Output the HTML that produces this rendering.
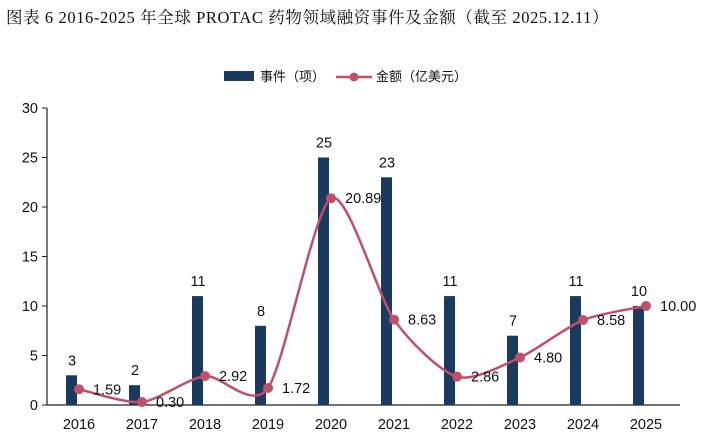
<!DOCTYPE html>
<html><head><meta charset="utf-8"><style>
body{margin:0;background:#fff;width:727px;height:440px;overflow:hidden}
text{font-family:"Liberation Sans","Noto Sans CJK SC",sans-serif}
</style></head><body>
<svg id="c" width="727" height="440">
<text x="6" y="23" font-size="16.5" letter-spacing="0.6" style="font-family:'Liberation Serif','Noto Serif CJK SC',serif" fill="#111">图表  6 2016-2025 年全球 PROTAC 药物领域融资事件及金额（截至 2025.12.11）</text>
<g>
<rect x="224" y="71" width="30" height="10" fill="#1b3a60"/>
<text x="260" y="81" font-size="13" fill="#111">事件（项）</text>
<line x1="336" y1="77" x2="372" y2="77" stroke="#c0506a" stroke-width="2.5"/>
<circle cx="354" cy="77" r="4.5" fill="#c0506a"/>
<text x="376" y="81" font-size="13" fill="#111">金额（亿美元）</text>
</g>
<g id="plot"></g>
</svg>
<script>
const categories=["2016","2017","2018","2019","2020","2021","2022","2023","2024","2025"];
const events=[3,2,11,8,25,23,11,7,11,10];
const amounts=[1.59,0.30,2.92,1.72,20.89,8.63,2.86,4.80,8.58,10.00];
const yTicks=[0,5,10,15,20,25,30];
const NS="http://www.w3.org/2000/svg";
const g=document.getElementById('plot');
const x=i=>79+i*63.0;
const y=v=>405-v*9.9;
function mk(t,a){const e=document.createElementNS(NS,t);for(const k in a)e.setAttribute(k,a[k]);g.appendChild(e);return e;}
let ax=mk('line',{x1:47,y1:y(30),x2:47,y2:405,stroke:'#222','stroke-width':1.2});


let bx=mk('line',{x1:47,y1:405,x2:680,y2:405,stroke:'#222','stroke-width':1.2});


yTicks.forEach(v=>{
 mk('line',{x1:42,y1:y(v),x2:47,y2:y(v),stroke:'#222','stroke-width':1});
 const t=mk('text',{x:38,y:y(v)+5,'font-size':14.5,'text-anchor':'end',fill:'#111'});t.textContent=v;
 
 
});
categories.forEach((c,i)=>{
 const t=mk('text',{x:x(i),y:429,'font-size':14.5,'text-anchor':'middle',fill:'#111'});t.textContent=c;
 
 
 const b=mk('rect',{x:x(i)-13,y:y(events[i]),width:11,height:405-y(events[i]),fill:'#1b3a60'});
 
 
 const l=mk('text',{x:x(i)-7,y:y(events[i])-10,'font-size':14.5,'text-anchor':'middle',fill:'#111'});l.textContent=events[i];
 
 
});
const pts=amounts.map((v,i)=>[x(i),y(v)]);
let d='M'+pts[0][0]+','+pts[0][1];
for(let i=0;i<pts.length-1;i++){
 const p0=pts[Math.max(0,i-1)],p1=pts[i],p2=pts[i+1],p3=pts[Math.min(pts.length-1,i+2)];
 const t=0.13;
 d+=' C'+(p1[0]+(p2[0]-p0[0])*t)+','+(p1[1]+(p2[1]-p0[1])*t)+' '+(p2[0]-(p3[0]-p1[0])*t)+','+(p2[1]-(p3[1]-p1[1])*t)+' '+p2[0]+','+p2[1];
}
const line=mk('path',{d:d,fill:'none',stroke:'#c0506a','stroke-width':2.5});


pts.forEach((p,i)=>{
 const c=mk('circle',{cx:p[0],cy:p[1],r:5,fill:'#c0506a'});
 
 
 const t=mk('text',{x:p[0]+14,y:p[1]+5,'font-size':14.5,fill:'#111'});t.textContent=amounts[i].toFixed(2);
 
 
});
</script>
</body></html>
